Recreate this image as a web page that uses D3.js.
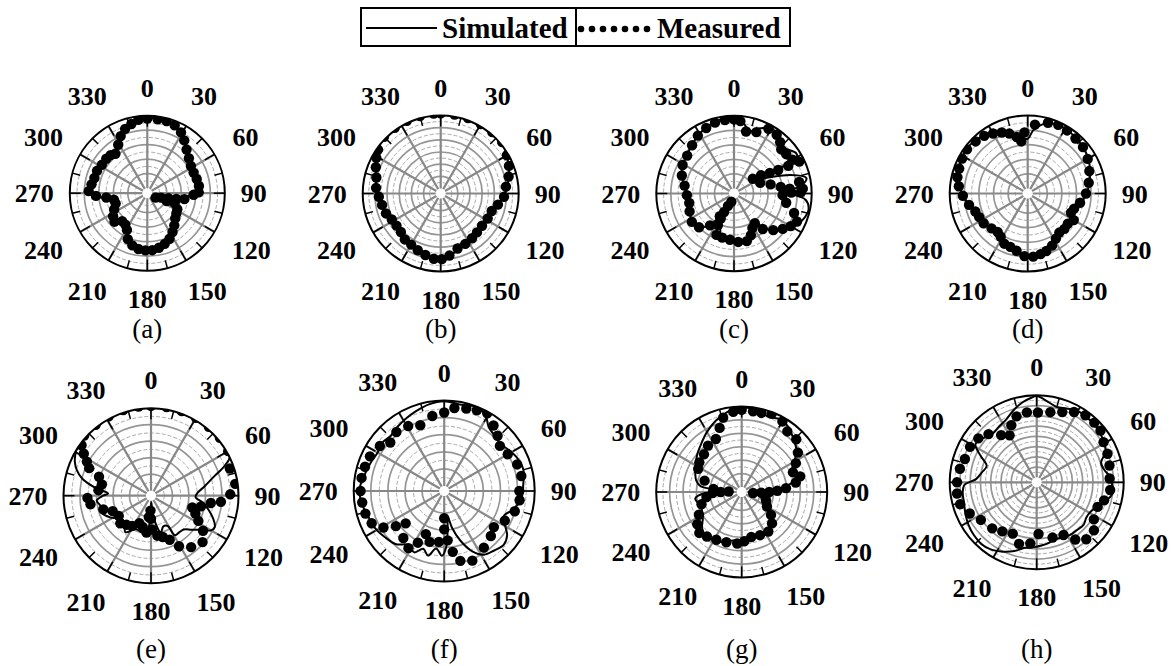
<!DOCTYPE html>
<html>
<head>
<meta charset="utf-8">
<script src="https://cdn.jsdelivr.net/npm/d3@7"></script>
<style>
body { margin: 0; background: #fff; }
svg text { font-family: "Liberation Serif", "Times New Roman", serif; fill: #000; }
</style>
</head>
<body>
<svg id="chart" width="1172" height="666"></svg>
<script>
// normalised pattern magnitude (0 = centre, 1 = outer ring), pairs of [angle deg, r]
var simA = [[0,0.97],[10,0.97],[20,0.95],[30,0.88],[40,0.76],[50,0.68],[60,0.64],[70,0.63],[80,0.65],[88,0.64],[94,0.50],[100,0.35],[106,0.18],[115,0.05],[112,0.25],[114,0.36],[122,0.41],[132,0.45],[142,0.53],[152,0.61],[162,0.68],[172,0.71],[182,0.72],[192,0.70],[202,0.63],[210,0.50],[220,0.46],[230,0.52],[240,0.46],[250,0.40],[258,0.41],[265,0.58],[272,0.74],[282,0.71],[292,0.69],[302,0.67],[312,0.66],[321,0.64],[330,0.73],[340,0.86],[350,0.94]];
var measA = [[0,0.96],[8,0.96],[15,0.96],[22,0.94],[29,0.89],[35,0.82],[42,0.74],[50,0.68],[58,0.64],[66,0.63],[74,0.64],[82,0.65],[89,0.64],[92,0.57],[99,0.45],[101,0.34],[103,0.23],[108,0.13],[118,0.06],[112,0.22],[110,0.33],[118,0.40],[125,0.42],[132,0.45],[140,0.51],[147,0.57],[154,0.63],[161,0.67],[168,0.70],[175,0.72],[182,0.72],[189,0.71],[196,0.68],[203,0.62],[209,0.51],[215,0.46],[222,0.45],[229,0.53],[236,0.50],[244,0.44],[252,0.39],[259,0.40],[264,0.50],[267,0.64],[272,0.74],[279,0.71],[286,0.69],[294,0.69],[302,0.67],[310,0.67],[316,0.66],[321,0.63],[329,0.71],[335,0.80],[341,0.87],[347,0.91],[353,0.95]];

var simB = [[0,1.05],[20,1.05],[40,1.04],[55,1.0],[65,0.95],[75,0.90],[85,0.84],[95,0.78],[105,0.70],[115,0.66],[125,0.65],[135,0.66],[145,0.67],[155,0.70],[165,0.75],[175,0.81],[185,0.83],[195,0.80],[205,0.76],[215,0.73],[225,0.70],[235,0.68],[245,0.70],[255,0.74],[265,0.77],[275,0.81],[285,0.85],[295,0.91],[305,0.98],[320,1.04],[340,1.05]];
var measB = [[0,1.03],[10,1.03],[20,1.03],[30,1.03],[40,1.03],[50,1.03],[60,0.98],[68,0.94],[76,0.89],[84,0.83],[93,0.80],[101,0.73],[109,0.67],[118,0.66],[128,0.65],[137,0.66],[145,0.68],[154,0.70],[163,0.72],[172,0.79],[179,0.83],[186,0.83],[194,0.80],[202,0.77],[210,0.74],[218,0.73],[226,0.69],[234,0.68],[242,0.69],[250,0.73],[259,0.75],[267,0.78],[275,0.82],[284,0.84],[292,0.89],[299,0.94],[305,0.98],[315,1.03],[325,1.03],[335,1.03],[345,1.03],[355,1.03]];

var simC = [[0,0.98],[8,0.90],[14,0.82],[22,0.90],[30,0.97],[38,0.92],[44,0.85],[50,0.88],[57,0.95],[62,0.90],[60,0.60],[58,0.40],[55,0.25],[65,0.45],[72,0.75],[78,0.95],[84,0.85],[87,0.62],[90,0.70],[95,0.92],[102,0.98],[110,0.95],[118,0.88],[126,0.78],[134,0.66],[140,0.52],[146,0.40],[152,0.48],[160,0.58],[170,0.62],[180,0.60],[190,0.57],[198,0.52],[204,0.35],[206,0.15],[208,0.05],[213,0.30],[218,0.50],[228,0.60],[238,0.62],[250,0.58],[260,0.56],[270,0.58],[280,0.63],[290,0.70],[300,0.74],[310,0.77],[320,0.82],[330,0.88],[340,0.93],[350,0.97]];
var measC = [[0,0.95],[5,0.93],[11,0.80],[20,0.83],[28,0.94],[36,0.93],[42,0.88],[47,0.82],[53,0.83],[60,0.86],[64,0.93],[63,0.77],[62,0.62],[60,0.50],[56,0.38],[52,0.26],[68,0.32],[76,0.45],[82,0.58],[85,0.70],[80,0.84],[86,0.88],[89,0.85],[89,0.72],[87,0.64],[92,0.60],[100,0.66],[108,0.80],[114,0.88],[120,0.83],[126,0.76],[133,0.67],[141,0.56],[145,0.43],[152,0.47],[158,0.55],[165,0.61],[175,0.60],[185,0.57],[195,0.56],[203,0.55],[207,0.42],[208,0.32],[208,0.22],[206,0.12],[198,0.05],[212,0.30],[217,0.48],[226,0.60],[236,0.63],[248,0.59],[258,0.56],[268,0.58],[279,0.62],[289,0.69],[299,0.74],[309,0.76],[319,0.81],[328,0.87],[337,0.91],[345,0.94],[353,0.95]];

var simD = [[0,0.68],[5,0.80],[12,0.90],[20,0.95],[30,0.96],[40,0.94],[50,0.92],[60,0.89],[70,0.84],[80,0.79],[90,0.74],[100,0.67],[110,0.60],[118,0.60],[125,0.64],[132,0.62],[140,0.60],[148,0.63],[155,0.70],[162,0.75],[170,0.79],[178,0.80],[186,0.78],[194,0.72],[202,0.70],[210,0.66],[218,0.62],[226,0.63],[236,0.65],[246,0.68],[256,0.73],[266,0.80],[276,0.87],[286,0.92],[296,0.95],[306,0.97],[316,0.95],[326,0.92],[336,0.86],[346,0.78],[354,0.70]];
var measD = [[357,0.77],[6,0.88],[16,0.94],[24,0.96],[32,0.95],[41,0.93],[50,0.92],[60,0.88],[70,0.83],[80,0.78],[90,0.73],[100,0.66],[108,0.60],[114,0.58],[120,0.66],[127,0.62],[134,0.63],[141,0.62],[148,0.66],[155,0.72],[162,0.76],[168,0.78],[175,0.80],[183,0.79],[191,0.73],[198,0.70],[205,0.69],[212,0.63],[218,0.60],[226,0.62],[236,0.66],[244,0.67],[251,0.69],[259,0.75],[268,0.82],[276,0.88],[283,0.92],[290,0.93],[298,0.95],[306,0.96],[315,0.94],[323,0.92],[330,0.88],[337,0.84],[343,0.79],[349,0.72],[353,0.65]];

var simE = [[0,1.05],[30,1.05],[55,1.04],[64,1.0],[68,0.90],[73,0.74],[80,0.60],[87,0.50],[92,0.48],[98,0.58],[104,0.66],[110,0.74],[116,0.80],[120,0.78],[124,0.68],[130,0.58],[136,0.51],[142,0.50],[149,0.50],[151,0.36],[158,0.34],[165,0.40],[170,0.30],[175,0.12],[178,0.02],[182,0.25],[186,0.35],[194,0.40],[204,0.38],[215,0.48],[224,0.40],[232,0.39],[242,0.50],[251,0.57],[258,0.56],[265,0.60],[270,0.52],[273,0.46],[278,0.62],[284,0.80],[289,0.89],[294,0.95],[298,0.98],[303,1.01],[310,1.04],[330,1.05]];
var measE = [[0,1.03],[10,1.03],[20,1.03],[30,1.03],[40,1.03],[50,1.03],[60,1.02],[71,0.95],[82,0.97],[89,0.90],[95,0.79],[97,0.67],[102,0.56],[106,0.46],[112,0.52],[118,0.59],[124,0.70],[132,0.78],[142,0.73],[151,0.64],[157,0.52],[164,0.46],[171,0.43],[178,0.35],[180,0.22],[182,0.12],[186,0.20],[187,0.39],[195,0.33],[203,0.30],[212,0.37],[220,0.40],[228,0.44],[238,0.40],[248,0.44],[254,0.54],[262,0.68],[268,0.71],[276,0.58],[283,0.55],[290,0.61],[294,0.76],[298,0.82],[302,0.90],[306,0.98],[312,1.03],[322,1.03],[332,1.03],[342,1.03],[352,1.03]];

var simF = [[0,0.99],[10,0.97],[20,0.99],[28,0.96],[35,0.85],[42,0.82],[50,0.80],[58,0.84],[66,0.88],[75,0.90],[85,0.87],[95,0.85],[105,0.78],[112,0.70],[118,0.74],[125,0.84],[132,0.88],[140,0.85],[148,0.82],[155,0.72],[162,0.55],[168,0.38],[172,0.25],[175,0.40],[178,0.60],[182,0.70],[188,0.62],[194,0.72],[200,0.66],[206,0.74],[214,0.70],[222,0.78],[232,0.82],[242,0.86],[252,0.88],[262,0.92],[272,0.93],[282,0.89],[292,0.86],[300,0.84],[308,0.86],[316,0.84],[324,0.87],[332,0.90],[340,0.93],[350,0.97]];
var measF = [[0,0.86],[7,0.92],[15,0.94],[22,0.96],[29,0.98],[37,0.90],[44,0.84],[51,0.78],[60,0.80],[70,0.85],[79,0.86],[90,0.82],[97,0.83],[106,0.80],[116,0.73],[126,0.66],[134,0.70],[145,0.75],[158,0.82],[167,0.78],[172,0.66],[176,0.52],[180,0.39],[180,0.26],[186,0.54],[196,0.56],[203,0.49],[207,0.62],[212,0.73],[221,0.67],[230,0.53],[234,0.64],[239,0.77],[246,0.87],[254,0.90],[262,0.91],[270,0.92],[279,0.92],[287,0.91],[295,0.90],[305,0.86],[312,0.79],[321,0.83],[331,0.81],[340,0.76],[351,0.83]];

var simG = [[0,0.99],[10,0.97],[20,0.93],[28,0.96],[36,0.93],[44,0.86],[52,0.80],[58,0.72],[64,0.64],[70,0.66],[76,0.62],[82,0.52],[88,0.30],[92,0.05],[100,0.25],[108,0.30],[116,0.32],[124,0.38],[132,0.46],[140,0.50],[150,0.55],[160,0.52],[170,0.55],[180,0.57],[190,0.55],[200,0.60],[210,0.63],[220,0.65],[228,0.60],[236,0.52],[246,0.48],[256,0.50],[262,0.52],[268,0.40],[272,0.05],[278,0.45],[284,0.52],[292,0.56],[300,0.60],[310,0.66],[320,0.72],[330,0.80],[340,0.88],[350,0.95]];
var measG = [[0,0.96],[8,0.95],[14,0.95],[21,0.98],[30,0.95],[37,0.88],[46,0.88],[55,0.79],[62,0.70],[69,0.62],[75,0.69],[80,0.62],[85,0.49],[88,0.38],[90,0.28],[92,0.18],[95,0.08],[103,0.24],[110,0.26],[120,0.30],[128,0.40],[136,0.48],[146,0.53],[157,0.52],[168,0.51],[177,0.55],[185,0.58],[197,0.59],[208,0.61],[218,0.64],[226,0.67],[234,0.62],[242,0.54],[253,0.46],[262,0.38],[268,0.30],[270,0.20],[272,0.10],[276,0.29],[287,0.42],[298,0.55],[305,0.58],[315,0.60],[324,0.65],[334,0.67],[341,0.78],[346,0.89],[354,0.94]];

var simH = [[0,0.99],[8,0.93],[15,0.89],[22,0.91],[29,0.94],[38,0.94],[47,0.93],[58,0.90],[66,0.86],[73,0.76],[80,0.78],[86,0.84],[92,0.86],[99,0.87],[108,0.78],[118,0.69],[125,0.68],[132,0.71],[140,0.70],[148,0.70],[155,0.68],[162,0.67],[168,0.69],[175,0.71],[182,0.73],[190,0.75],[198,0.82],[206,0.88],[214,0.93],[222,0.95],[230,0.94],[238,0.92],[246,0.89],[254,0.86],[262,0.85],[268,0.82],[273,0.68],[280,0.62],[288,0.58],[295,0.69],[302,0.82],[310,0.78],[318,0.74],[326,0.76],[334,0.79],[342,0.86],[350,0.93],[356,0.97]];
var measH = [[1,0.79],[11,0.81],[20,0.85],[28,0.91],[36,0.95],[44,0.95],[51,0.94],[59,0.89],[68,0.87],[77,0.85],[87,0.83],[96,0.84],[105,0.79],[112,0.74],[123,0.77],[130,0.85],[139,0.86],[146,0.78],[153,0.66],[164,0.64],[178,0.57],[186,0.69],[196,0.72],[205,0.63],[215,0.67],[224,0.72],[236,0.76],[245,0.84],[254,0.91],[262,0.92],[270,0.91],[280,0.89],[288,0.86],[298,0.86],[307,0.83],[315,0.77],[323,0.66],[330,0.60],[336,0.70],[343,0.78],[352,0.80]];

var angleTicks = [0, 30, 60, 90, 120, 150, 180, 210, 240, 270, 300, 330];
var captions = ['(a)', '(b)', '(c)', '(d)', '(e)', '(f)', '(g)', '(h)'];
var legendNames = ['Simulated', 'Measured'];

// layout of the 8 polar plots
var panels = [
    {sim: simA, meas: measA, cx: 147.3, cy: 193.2, R: 77.5, rings: 5, capY: 338},
    {sim: simB, meas: measB, cx: 440.7, cy: 193.5, R: 78,   rings: 6, capY: 338},
    {sim: simC, meas: measC, cx: 734,   cy: 193.5, R: 77.7, rings: 5, capY: 338},
    {sim: simD, meas: measD, cx: 1027.7,cy: 193.5, R: 78,   rings: 5, capY: 338},
    {sim: simE, meas: measE, cx: 151,   cy: 495.7, R: 87.5, rings: 5, capY: 658},
    {sim: simF, meas: measF, cx: 444.2, cy: 491,   R: 90.5, rings: 5, capY: 658},
    {sim: simG, meas: measG, cx: 741.7, cy: 492,   R: 85.5, rings: 6, capY: 658},
    {sim: simH, meas: measH, cx: 1036.7,cy: 482.3, R: 87,   rings: 8, capY: 658}
];

var HOLE = 5;
var svg = d3.select('#chart');
var angle = d3.scaleLinear().domain([0, 360]).range([0, 2 * Math.PI]);

panels.forEach(function (p, i) {
    var g = svg.append('g').attr('transform', 'translate(' + p.cx + ',' + p.cy + ')');
    var r = d3.scaleLinear().domain([0, 1]).range([HOLE, p.R]);

    // concentric grid: solid major rings, dashed minor rings in between
    var n = p.rings;
    var major = d3.range(1, n).map(function (k) { return k / n; });
    var minor = d3.range(0, n).map(function (k) { return (k + 0.5) / n; });

    g.selectAll('.minor').data(minor).enter().append('circle')
        .attr('r', function (d) { return r(d); })
        .attr('fill', 'none')
        .attr('stroke', '#aaaaaa')
        .attr('stroke-width', 1)
        .attr('stroke-dasharray', '4,2');

    g.selectAll('.major').data(major).enter().append('circle')
        .attr('r', function (d) { return r(d); })
        .attr('fill', 'none')
        .attr('stroke', '#969696')
        .attr('stroke-width', 1.7);

    // spokes
    g.selectAll('.spoke').data(angleTicks).enter().append('line')
        .attr('x1', function (d) { return HOLE * Math.sin(angle(d)); })
        .attr('y1', function (d) { return -HOLE * Math.cos(angle(d)); })
        .attr('x2', function (d) { return p.R * Math.sin(angle(d)); })
        .attr('y2', function (d) { return -p.R * Math.cos(angle(d)); })
        .attr('stroke', '#888')
        .attr('stroke-width', 2.2);

    // ticks on the outer ring
    var ticks = d3.range(0, 360, 15);
    g.selectAll('.tick').data(ticks).enter().append('line')
        .attr('x1', function (d) { return p.R * Math.sin(angle(d)); })
        .attr('y1', function (d) { return -p.R * Math.cos(angle(d)); })
        .attr('x2', function (d) { var l = d % 30 === 0 ? 11 : 8; return (p.R - l) * Math.sin(angle(d)); })
        .attr('y2', function (d) { var l = d % 30 === 0 ? 11 : 8; return -(p.R - l) * Math.cos(angle(d)); })
        .attr('stroke', '#000')
        .attr('stroke-width', 1.5);

    g.append('circle')
        .attr('r', p.R)
        .attr('fill', 'none')
        .attr('stroke', '#000')
        .attr('stroke-width', 2);

    // data, clipped to the plot circle
    g.append('clipPath').attr('id', 'clip' + i)
        .append('circle').attr('r', p.R);
    var data = g.append('g').attr('clip-path', 'url(#clip' + i + ')');

    var line = d3.lineRadial()
        .angle(function (d) { return angle(d[0]); })
        .radius(function (d) { return r(d[1]); })
        .curve(d3.curveCatmullRomClosed.alpha(0.5));

    data.append('path')
        .datum(p.sim)
        .attr('d', line)
        .attr('fill', 'none')
        .attr('stroke', '#000')
        .attr('stroke-width', 2);

    data.selectAll('.dot').data(p.meas).enter().append('circle')
        .attr('cx', function (d) { return r(d[1]) * Math.sin(angle(d[0])); })
        .attr('cy', function (d) { return -r(d[1]) * Math.cos(angle(d[0])); })
        .attr('r', 5.2)
        .attr('fill', '#000');

    // angle labels
    g.selectAll('.alabel').data(angleTicks).enter().append('text')
        .attr('x', function (d) {
            var a = angle(d), w = String(d).length * 13;
            var dist = p.R + 16 + 8 * Math.abs(Math.sin(2 * a));
            return Math.sin(a) * dist + Math.sin(a) * w / 2;
        })
        .attr('y', function (d) {
            var a = angle(d);
            var dist = p.R + 16 + 8 * Math.abs(Math.sin(2 * a));
            return -Math.cos(a) * dist - Math.cos(a) * 12;
        })
        .attr('dy', '0.35em')
        .attr('text-anchor', 'middle')
        .style('font-size', '26px')
        .style('font-weight', 'bold')
        .text(function (d) { return d; });

    svg.append('text')
        .attr('x', p.cx)
        .attr('y', p.capY)
        .attr('text-anchor', 'middle')
        .style('font-size', '27px')
        .text(captions[i]);
});

// legend
var lg = svg.append('g');
lg.append('rect')
    .attr('x', 361).attr('y', 8).attr('width', 429).attr('height', 38)
    .attr('fill', 'none').attr('stroke', '#000').attr('stroke-width', 2);
lg.append('line')
    .attr('x1', 576).attr('x2', 576).attr('y1', 8).attr('y2', 46)
    .attr('stroke', '#000').attr('stroke-width', 2);
lg.append('line')
    .attr('x1', 366).attr('x2', 437).attr('y1', 28).attr('y2', 28)
    .attr('stroke', '#000').attr('stroke-width', 2);
lg.append('text')
    .attr('x', 442).attr('y', 38)
    .style('font-size', '29px').style('font-weight', 'bold')
    .text(legendNames[0]);
lg.selectAll('.ldot').data(d3.range(7)).enter().append('circle')
    .attr('cx', function (d) { return 581 + d * 11; })
    .attr('cy', 29)
    .attr('r', 3.3)
    .attr('fill', '#000');
lg.append('text')
    .attr('x', 657).attr('y', 38)
    .style('font-size', '29px').style('font-weight', 'bold')
    .text(legendNames[1]);
</script>
</body>
</html>
